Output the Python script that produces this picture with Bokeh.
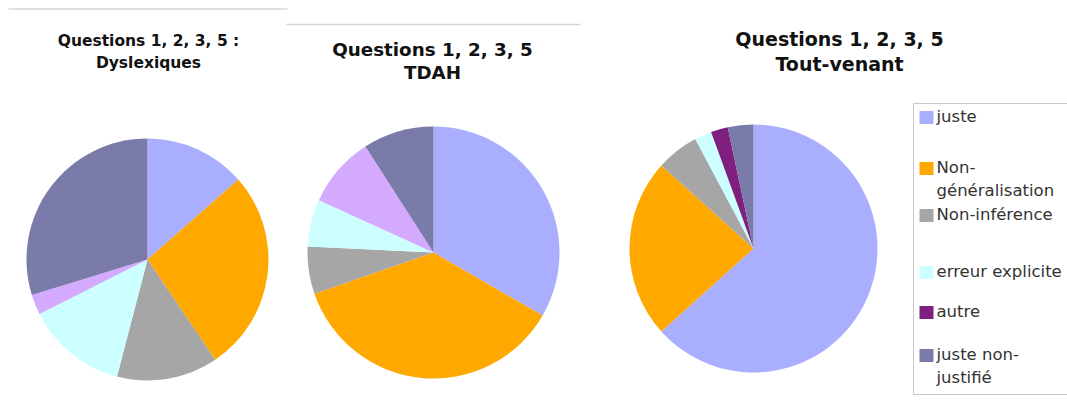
import numpy as np
from bokeh.plotting import figure
from bokeh.models import Range1d, ColumnDataSource
from bokeh.embed import file_html
from bokeh.resources import INLINE
from bokeh.core.properties import value

# ---------------- data ----------------
categories = ["juste", "Non-généralisation", "Non-inférence",
              "erreur explicite", "autre", "juste non-justifié"]
legend_labels = ["juste", "Non-\ngénéralisation", "Non-inférence",
                 "erreur explicite", "autre", "juste non-\njustifié"]
dyslexiques = [5, 10, 5, 5, 1, 11]
tdah = [11, 12, 2, 2, 3, 3]
tout_venant = [57, 21, 5, 2, 2, 3]

title_dys = ["Questions 1, 2, 3, 5 :", "Dyslexiques"]
title_tdah = ["Questions 1, 2, 3, 5", "TDAH"]
title_tv = ["Questions 1, 2, 3, 5", "Tout-venant"]

colors_small = ["#AAAEFF", "#FFA800", "#A6A6A6", "#CCFFFF", "#D4AAFF", "#7A7BA8"]
colors_tv = ["#AAAEFF", "#FFA800", "#A6A6A6", "#CCFFFF", "#7F1F7F", "#7A7BA8"]

FONT = "DejaVu Sans"

# ---------------- figure (1 data unit = 1 px, y measured upward) ----------------
W, H = 1067, 406
p = figure(width=W, height=H, x_range=Range1d(0, W), y_range=Range1d(406 - H, 406),
           output_backend="svg", toolbar_location=None,
           x_axis_location=None, y_axis_location=None,
           min_border=0, min_border_left=0, min_border_right=0,
           min_border_top=0, min_border_bottom=0)
p.grid.visible = False
p.outline_line_color = None
p.background_fill_color = "white"
p.border_fill_color = "white"


def sy(y):
    """screen y (from top of picture) -> data y"""
    return 406 - y


def pie(values, colors, cx, cy, r):
    vals = np.asarray(values, dtype=float)
    frac = vals / vals.sum()
    cum = np.concatenate([[0.0], np.cumsum(frac)])
    start = np.pi / 2 - cum[:-1] * 2 * np.pi
    end = np.pi / 2 - cum[1:] * 2 * np.pi
    src = ColumnDataSource(dict(start=start, end=end, color=colors,
                                cat=categories, val=vals))
    p.wedge(x=cx, y=sy(cy), radius=r, start_angle="start", end_angle="end",
            direction="clock", fill_color="color", line_color=None, source=src)


pie(dyslexiques, colors_small, 147, 259, 121)
pie(tdah, colors_small, 433, 252, 126)
pie(tout_venant, colors_tv, 753, 248, 124)

# decorative grey rules at the top
p.segment(x0=[8, 286], y0=[sy(8.5), sy(24)], x1=[287, 580], y1=[sy(8.5), sy(24)],
          line_color="#D6D6D6", line_width=1.5)


def title(lines, cx, ys, size):
    p.text(x=[cx] * len(lines), y=[sy(v) for v in ys], text=lines,
           text_font=value(FONT), text_font_style="bold",
           text_font_size=size, text_color="#111111",
           text_align="center", text_baseline="middle")


title(title_dys, 148, [40, 62], "15.5px")
title(title_tdah, 432, [49, 72], "18.3px")
title(title_tv, 839, [38, 63], "19px")

# ---------------- legend ----------------
p.quad(left=913, right=1100, top=sy(103), bottom=sy(394),
       fill_color="white", line_color="#C8C8C8", line_width=1)
leg_y = [117, 168, 215, 272, 312, 355]
p.rect(x=[926] * 6, y=[sy(v) for v in leg_y], width=14, height=13,
       fill_color=colors_tv, line_color=None)
p.text(x=[936] * 6, y=[sy(v - 11) for v in leg_y], text=legend_labels,
       text_font=value(FONT), text_font_size="16.5px", text_color="#333333",
       text_align="left", text_baseline="top", text_line_height=1.25)

open("out.html", "w").write(file_html(p, INLINE))
